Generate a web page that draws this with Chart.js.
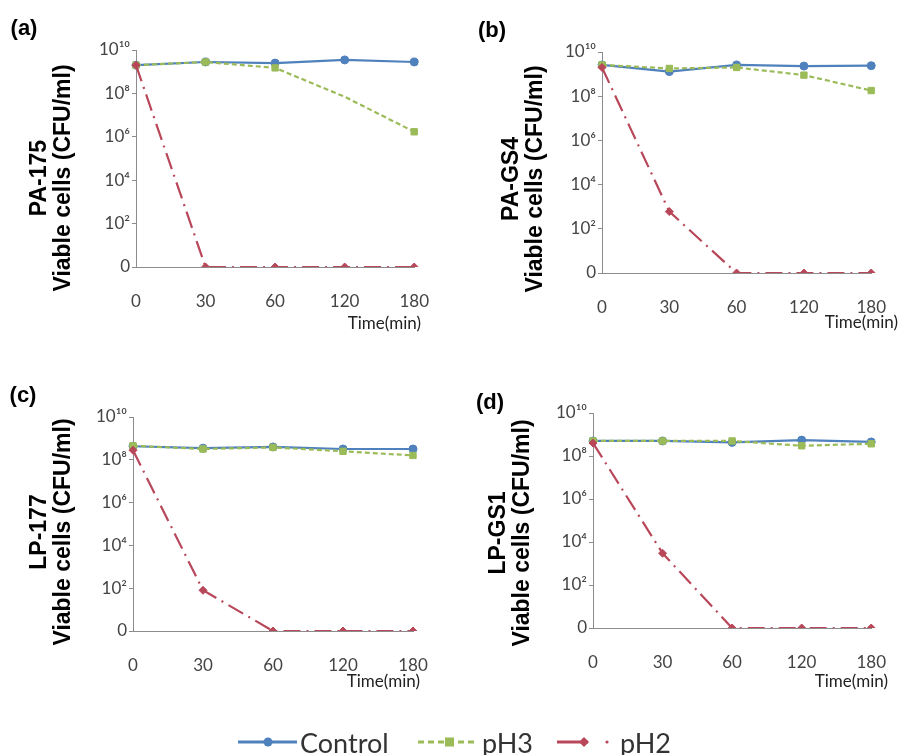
<!DOCTYPE html>
<html><head><meta charset="utf-8">
<script src="https://cdn.jsdelivr.net/npm/chart.js@4.4.1/dist/chart.umd.min.js"></script>
<style>
html,body{margin:0;padding:0;background:#fff;}
body{width:902px;height:755px;position:relative;overflow:hidden;}
canvas{position:absolute;}
.panel{position:absolute;font:bold 22px 'Liberation Sans',Arial,sans-serif;color:#000;transform:translate(-50%,-50%);white-space:nowrap;}
.ytitle{position:absolute;font:bold 23px 'Liberation Sans',Arial,sans-serif;line-height:24px;text-align:center;white-space:nowrap;transform:translate(-50%,-50%) rotate(-90deg);color:#000;}
.xtitle{position:absolute;font:17px Lato,sans-serif;color:#222;transform:translate(-100%,-50%);white-space:nowrap;line-height:1;}
.leg{position:absolute;font:27px Lato,sans-serif;color:#333;transform:translateY(-50%);white-space:nowrap;line-height:1;}
svg{position:absolute;left:0;top:0;}
</style></head>
<body>
<canvas id="cA" width="445" height="340" style="left:0;top:0"></canvas>
<canvas id="cB" width="442" height="340" style="left:460px;top:0"></canvas>
<canvas id="cC" width="445" height="355" style="left:0;top:340px"></canvas>
<canvas id="cD" width="442" height="355" style="left:460px;top:340px"></canvas>

<div class="panel" style="left:24px;top:28px">(a)</div>
<div class="panel" style="left:492px;top:30px">(b)</div>
<div class="panel" style="left:23px;top:395px">(c)</div>
<div class="panel" style="left:490px;top:402px">(d)</div>

<div class="ytitle" style="left:50px;top:178px">PA-175<br>Viable cells (CFU/ml)</div>
<div class="ytitle" style="left:522px;top:179px">PA-GS4<br>Viable cells (CFU/ml)</div>
<div class="ytitle" style="left:50px;top:532px">LP-177<br>Viable cells (CFU/ml)</div>
<div class="ytitle" style="left:509px;top:533px">LP-GS1<br>Viable cells (CFU/ml)</div>

<div class="xtitle" style="left:421px;top:322px">Time(min)</div>
<div class="xtitle" style="left:898px;top:321px">Time(min)</div>
<div class="xtitle" style="left:420px;top:680px">Time(min)</div>
<div class="xtitle" style="left:888px;top:680px">Time(min)</div>

<svg width="902" height="755">
  <line x1="238" y1="742" x2="297" y2="742" stroke="#4F81BD" stroke-width="3"/>
  <circle cx="268" cy="742" r="4.5" fill="#4F81BD"/>
  <line x1="418" y1="742" x2="478" y2="742" stroke="#9BBB59" stroke-width="3" stroke-dasharray="6,4"/>
  <rect x="445" y="737.5" width="9" height="9" fill="#9BBB59"/>
  <line x1="557" y1="742" x2="588" y2="742" stroke="#B9475A" stroke-width="3"/>
  <polygon points="584,737 589,742 584,747 579,742" fill="#B9475A"/>
  <circle cx="607" cy="742" r="1.6" fill="#B9475A"/>
</svg>
<div class="leg" style="left:300px;top:742px">Control</div>
<div class="leg" style="left:482px;top:742px">pH3</div>
<div class="leg" style="left:620px;top:742px">pH2</div>

<script>
// ---- data ----
const times = ['0', '30', '60', '120', '180'];
const ND = 1; // value shown at the "0" tick (no viable cells detected)
const yTickValues = [1, 1e2, 1e4, 1e6, 1e8, 1e10];
const yTickLabels = ['0', '10\u00B2', '10\u2074', '10\u2076', '10\u2078', '10\u00B9\u2070'];

const aControl = [2.0e9, 2.8e9, 2.5e9, 3.5e9, 2.8e9];
const aPH3     = [2.0e9, 2.8e9, 1.5e9, 7.0e7, 1.7e6];
const aPH2     = [2.0e9, ND, ND, ND, ND];

const bControl = [2.6e9, 1.3e9, 2.6e9, 2.3e9, 2.4e9];
const bPH3     = [2.6e9, 1.8e9, 2.0e9, 9.0e8, 1.8e8];
const bPH2     = [2.0e9, 6.0e2, ND, ND, ND];

const cControl = [4.3e8, 3.5e8, 4.0e8, 3.2e8, 3.2e8];
const cPH3     = [4.5e8, 3.2e8, 3.8e8, 2.5e8, 1.6e8];
const cPH2     = [2.8e8, 8.0e1, ND, ND, ND];

const dControl = [5.0e8, 5.0e8, 4.3e8, 5.5e8, 4.5e8];
const dPH3     = [5.0e8, 5.0e8, 5.0e8, 3.0e8, 3.7e8];
const dPH2     = [4.0e8, 3.0e3, ND, ND, ND];

// ---- style ----
const BLUE = '#4F81BD', GREEN = '#9BBB59', RED = '#B9475A', AXIS = '#8c8c8c';
const TICKFONT = {family: 'Lato, "Noto Sans", sans-serif', size: 17};

function datasets(control, ph3, ph2, ph3Radius) {
  return [
    {label: 'Control', data: control, borderColor: BLUE, backgroundColor: BLUE,
     borderWidth: 2.2, pointStyle: 'circle', pointRadius: 4, pointBorderWidth: 1, order: 2},
    {label: 'pH3', data: ph3, borderColor: GREEN, backgroundColor: GREEN,
     borderWidth: 2.2, borderDash: [5, 3], pointStyle: 'rect', pointRadius: ph3Radius || 4.5, pointBorderWidth: 1, order: 1},
    {label: 'pH2', data: ph2, borderColor: RED, backgroundColor: RED,
     borderWidth: 2.2, borderDash: [17, 6, 2, 6], pointStyle: 'rectRot', pointRadius: 4, pointBorderWidth: 1, order: 0}
  ];
}

function make(id, dsets, lay) {
  new Chart(document.getElementById(id), {
    type: 'line',
    data: {labels: times, datasets: dsets},
    options: {
      responsive: false, animation: false, devicePixelRatio: 1,
      layout: {padding: {left: 0, top: lay.top, right: lay.right, bottom: 0}},
      plugins: {legend: {display: false}, tooltip: {enabled: false}},
      elements: {line: {tension: 0}},
      scales: {
        x: {
          type: 'category', offset: false,
          grid: {display: false},
          border: {display: true, color: AXIS, width: 1},
          ticks: {font: TICKFONT, color: '#444', padding: 16, maxRotation: 0, autoSkip: false},
          afterFit(s) { s.height = lay.xh; }
        },
        y: {
          type: 'logarithmic', min: 1, max: 1e10,
          grid: {display: true, drawOnChartArea: false, drawTicks: true, tickLength: 4, color: AXIS},
          border: {display: true, color: AXIS, width: 1},
          ticks: {font: TICKFONT, color: '#444', padding: 2,
                  callback: (v, i) => yTickLabels[i]},
          afterBuildTicks(s) { s.ticks = yTickValues.map(v => ({value: v, major: false})); },
          afterFit(s) { s.width = lay.yw; }
        }
      }
    }
  });
}

make('cA', datasets(aControl, aPH3, aPH2, [4.5, 4.5, 4.5, 0, 4.5]), {top: 50, right: 28, yw: 136, xh: 73});
make('cB', datasets(bControl, bPH3, bPH2), {top: 52, right: 14, yw: 142, xh: 67});
make('cC', datasets(cControl, cPH3, cPH2), {top: 77, right: 32, yw: 133, xh: 64});
make('cD', datasets(dControl, dPH3, dPH2), {top: 73, right: 20, yw: 133, xh: 67});
</script>
</body></html>
